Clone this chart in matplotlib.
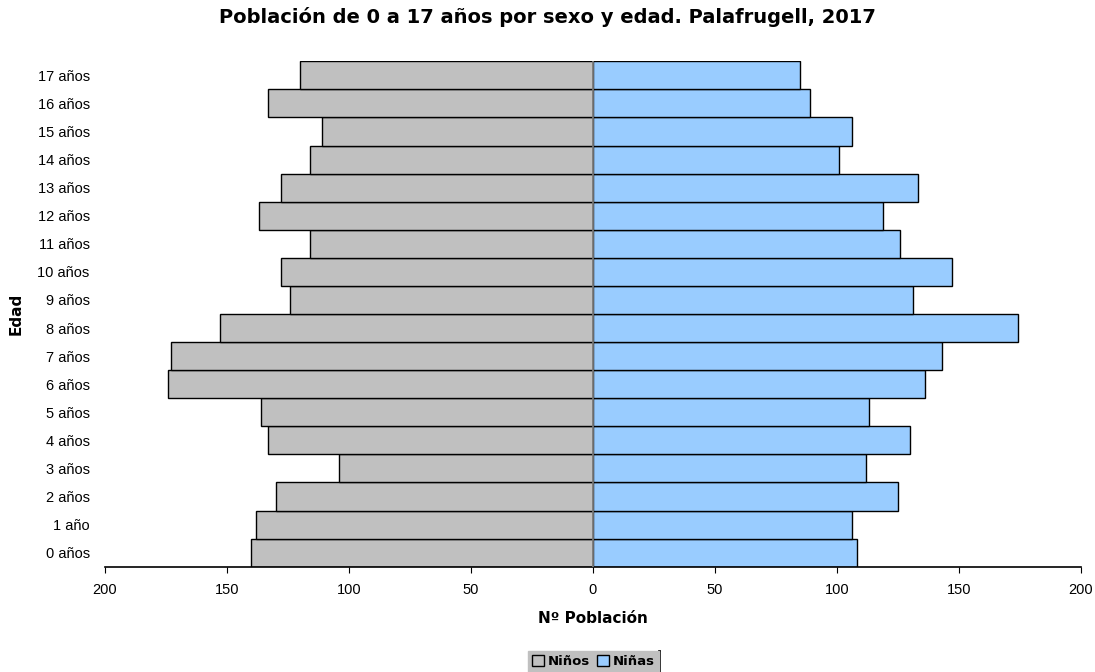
import matplotlib
matplotlib.use("Agg")
from matplotlib import pyplot as plt
from matplotlib.lines import Line2D
import numpy as np

# Población de 0 a 17 años por sexo y edad. Palafrugell, 2017
edades = ['0 años', '1 año', '2 años', '3 años', '4 años', '5 años', '6 años',
          '7 años', '8 años', '9 años', '10 años', '11 años', '12 años',
          '13 años', '14 años', '15 años', '16 años', '17 años']
ninos = [140, 138, 130, 104, 133, 136, 174, 173, 153, 124, 128, 116, 137,
         128, 116, 111, 133, 120]
ninas = [108, 106, 125, 112, 130, 113, 136, 143, 174, 131, 147, 126, 119,
         133, 101, 106, 89, 85]
xticks = [-200, -150, -100, -50, 0, 50, 100, 150, 200]

fig = plt.figure(figsize=(10.95, 6.72), dpi=100)
ax = fig.add_axes([0.0959, 0.1567, 0.8913, 0.7521])

y = np.arange(len(edades))
ax.barh(y, -np.array(ninos), height=1.0, color='#c0c0c0', edgecolor='black',
        linewidth=1, label='Niños', zorder=2)
ax.barh(y, ninas, height=1.0, color='#99ccff', edgecolor='black',
        linewidth=1, label='Niñas', zorder=2)
ax.axvline(0, color='#808080', linewidth=1.2, zorder=3)

ax.set_xlim(-200, 200)
ax.set_ylim(-0.5, len(edades) - 0.5)
ax.set_xticks(xticks)
ax.set_xticklabels([str(abs(v)) for v in xticks], fontsize=10.5,
                   family='Liberation Sans')
ax.set_yticks(y)
ax.set_yticklabels(edades, fontsize=10.5, family='Liberation Sans')
ax.tick_params(axis='y', length=0, pad=11)
ax.tick_params(axis='x', length=4, direction='out', pad=8)

for s in ['top', 'right', 'left']:
    ax.spines[s].set_visible(False)
ax.spines['bottom'].set_linewidth(1.2)

ax.set_xlabel('Nº Población', fontsize=11, fontweight='bold', labelpad=10)
ax.set_ylabel('Edad', fontsize=11, fontweight='bold', labelpad=10)
fig.suptitle('Población de 0 a 17 años por sexo y edad. Palafrugell, 2017',
             fontsize=14, fontweight='bold', y=0.99)

leg = fig.legend(loc='center', bbox_to_anchor=(0.542, 0.0155), ncol=2,
                 frameon=True, fancybox=False, facecolor='#c0c0c0',
                 edgecolor='#c0c0c0', framealpha=1, handlelength=0.9,
                 handleheight=0.9, handletextpad=0.3, columnspacing=0.5,
                 borderpad=0.3, prop={'weight': 'bold', 'size': 9.5})

# dark edge on the right side of the legend box
fig.canvas.draw()
bb = leg.get_window_extent().transformed(fig.transFigure.inverted())
fig.add_artist(Line2D([bb.x1, bb.x1], [bb.y0, bb.y1], color='black',
                      linewidth=2, transform=fig.transFigure))

fig.savefig('out.png', dpi=100)
